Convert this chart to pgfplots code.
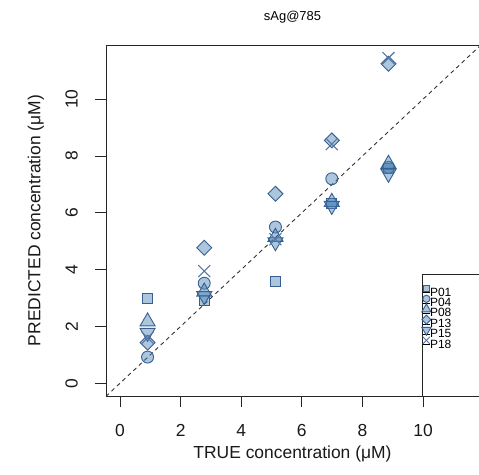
\documentclass[border=0pt]{standalone}
\usepackage{pgfplots}
\pgfplotsset{compat=1.18}
\usepackage{fontspec}
\setmainfont{Liberation Sans}
\definecolor{edgeblue}{RGB}{55,95,145}
\definecolor{fillblue}{RGB}{70,130,180}
\pgfplotsset{
  pt/.style={only marks, mark options={draw=edgeblue, fill=fillblue, fill opacity=0.45, line width=0.9bp}},
  lg/.style={legend image code/.code={\path (0bp,0bp) rectangle (7bp,0bp); \draw[##1, overlay] plot coordinates {(3.5bp,4.3bp)};}},
}
\begin{document}
\begin{tikzpicture}
\begin{axis}[
  scale only axis, width=375bp, height=351bp,
  xmin=-0.462, xmax=11.914, ymin=-0.45, ymax=11.91,
  xtick={0,2,...,10}, ytick={0,2,...,10},
  tick pos=left, tick align=outside, major tick length=11bp,
  axis line style={line width=0.9bp, black!85},
  every tick/.style={line width=0.9bp, black!85},
  /pgf/number format/assume math mode=true,
  ticklabel style={font=\fontsize{17.5}{17.5}\selectfont, text=black!90},
  xticklabel style={anchor=center, yshift=-23bp},
  yticklabel style={anchor=center, xshift=-23.3bp, rotate=90},
  label style={font=\fontsize{17.5}{17.5}\selectfont, text=black!90},
  xlabel={TRUE concentration (μM)},
  ylabel={PREDICTED concentration (μM)},
  xlabel style={at={(axis description cs:0.4973,-0.1652)}, anchor=center},
  ylabel style={at={(axis description cs:-0.187,0.5)}, anchor=center},
  title={sAg@785},
  title style={font=\fontsize{13}{13}\selectfont, at={(axis description cs:0.4973,1)}, anchor=center, yshift=22bp},
  legend style={at={(rel axis cs:0.8427,0.3476)}, anchor=north west, xshift=0.5bp, yshift=-15bp,
    draw=none, fill=none, inner sep=0pt, font=\fontsize{12}{12}\selectfont,
    nodes={inner sep=0pt, text height=7bp, text depth=0bp}, row sep=3.4bp,
    /tikz/every even column/.append style={column sep=2bp}},
  legend cell align=left,
]
\draw[line width=0.9bp, black!85, fill=white] (rel axis cs:0.8427,0) rectangle (rel axis cs:1.2,0.3476);
\addplot[forget plot, black!80, line width=0.9bp, dash pattern=on 4bp off 3.5bp] coordinates {(-0.462,-0.462) (11.914,11.914)};
% P01
\addplot[forget plot, pt, mark=square*, mark size=5bp] coordinates {(0.91,2.98) (2.78,2.93) (5.13,3.58) (6.99,6.32) (8.86,7.55)};
% P04
\addplot[forget plot, pt, mark=*, mark size=6bp] coordinates {(0.91,0.92) (2.78,3.52) (5.13,5.50) (6.99,7.20) (8.86,7.60)};
% P08
\addplot[forget plot, pt, mark=triangle*, mark size=8.7bp] coordinates {(0.91,2.17) (2.78,3.22) (5.13,5.15) (6.99,6.38) (8.86,7.72)};
% P13
\addplot[forget plot, pt, mark=square*, mark size=5.3bp, every mark/.append style={rotate=45}] coordinates {(0.91,1.43) (2.78,4.77) (5.13,6.67) (6.99,8.55) (8.86,11.25)};
% P15
\addplot[forget plot, pt, mark=triangle*, mark size=8.7bp, every mark/.append style={rotate=180}] coordinates {(0.91,1.78) (2.78,3.07) (5.13,4.97) (6.99,6.25) (8.86,7.38)};
% P18
\addplot[forget plot, only marks, mark=x, mark size=8.5bp, mark options={draw=edgeblue!85, line width=1.1bp}] coordinates {(0.91,1.60) (2.78,3.95) (5.13,5.07) (6.99,8.42) (8.86,11.45)};
\addlegendimage{pt, lg, mark=square*, mark size=3bp}
\addlegendentry{P01}
\addlegendimage{pt, lg, mark=*, mark size=3.6bp}
\addlegendentry{P04}
\addlegendimage{pt, lg, mark=triangle*, mark size=5.3bp}
\addlegendentry{P08}
\addlegendimage{pt, lg, mark=square*, mark size=3.2bp, every mark/.append style={rotate=45}}
\addlegendentry{P13}
\addlegendimage{pt, lg, mark=triangle*, mark size=5.3bp, every mark/.append style={rotate=180}}
\addlegendentry{P15}
\addlegendimage{only marks, lg, mark=x, mark size=5bp, mark options={draw=edgeblue!85, line width=0.8bp}}
\addlegendentry{P18}
\end{axis}
\pgfresetboundingbox
\useasboundingbox (-106bp,-79bp) rectangle (373bp,396bp);
\end{tikzpicture}
\end{document}
